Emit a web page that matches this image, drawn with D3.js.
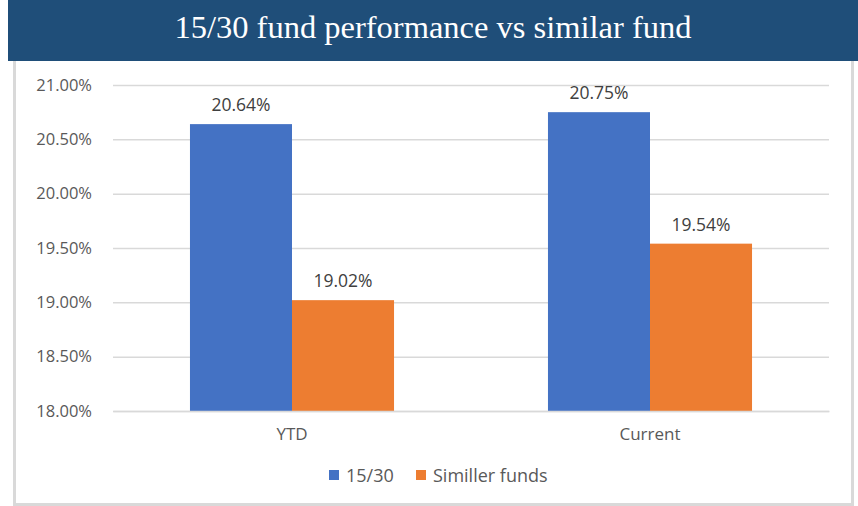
<!DOCTYPE html>
<html>
<head>
<meta charset="utf-8"/>
<script src="https://d3js.org/d3.v7.min.js"></script>
<style>
    body { margin: 0; background: #fff; }
    text { font-family: "Open Sans", "Liberation Sans", sans-serif; }
</style>
</head>
<body>
<svg width="858" height="506"></svg>
<script>
    // datos
    const categorias = ["YTD", "Current"];
    const series = ["15/30", "Similler funds"];
    const valores1530 = [20.64, 20.75];
    const valoresSimilares = [19.02, 19.54];
    const ticks = [18.0, 18.5, 19.0, 19.5, 20.0, 20.5, 21.0];
    const colores = ["#4472c4", "#ed7d31"];

    const svg = d3.select("svg");

    // caja del grafico
    svg.append("rect")
        .attr("x", 14.5).attr("y", 55).attr("width", 838).attr("height", 449.5)
        .attr("fill", "#fff").attr("stroke", "#d9d9d9").attr("stroke-width", 3);

    // banda del titulo
    svg.append("rect")
        .attr("x", 8).attr("y", 0).attr("width", 850).attr("height", 61)
        .attr("fill", "#1f4e79");
    svg.append("text")
        .attr("x", 433).attr("y", 38)
        .attr("text-anchor", "middle")
        .style("font-family", "'Liberation Serif', serif")
        .style("font-size", "32.5px")
        .attr("fill", "#fff")
        .text("15/30 fund performance vs similar fund");

    const mIzq = 113, mDer = 829, mSup = 85, mInf = 411;

    const y = d3.scaleLinear().domain([18, 21]).range([mInf, mSup]);
    const x0 = d3.scaleBand().domain(categorias).range([mIzq, mDer])
        .paddingInner(0.43).paddingOuter(0.215);
    const x1 = d3.scaleBand().domain(series).range([0, x0.bandwidth()]);

    // lineas de grilla
    const yAxis = d3.axisLeft(y).tickValues(ticks)
        .tickSize(-(mDer - mIzq))
        .tickPadding(21)
        .tickFormat(d => d.toFixed(2) + "%");
    const gy = svg.append("g")
        .attr("transform", "translate(" + mIzq + ",0)")
        .call(yAxis);
    gy.select(".domain").remove();
    gy.selectAll("line").attr("stroke", "#d9d9d9").attr("stroke-width", 1.5);
    gy.selectAll("text").attr("fill", "#595959").style("font-size", "16.5px");

    const datos = categorias.map((c, i) => ({
        cat: c,
        vals: [{s: series[0], v: valores1530[i]}, {s: series[1], v: valoresSimilares[i]}]
    }));

    const grupos = svg.selectAll("g.grupo").data(datos).enter()
        .append("g").attr("class", "grupo")
        .attr("transform", d => "translate(" + x0(d.cat) + ",0)");

    grupos.selectAll("rect").data(d => d.vals).enter()
        .append("rect")
        .attr("x", d => x1(d.s))
        .attr("width", x1.bandwidth())
        .attr("y", d => y(d.v))
        .attr("height", d => y(18) - y(d.v))
        .attr("fill", (d, i) => colores[i]);

    grupos.selectAll("text.val").data(d => d.vals).enter()
        .append("text").attr("class", "val")
        .attr("x", d => x1(d.s) + x1.bandwidth() / 2)
        .attr("y", d => y(d.v) - 13)
        .attr("text-anchor", "middle")
        .attr("fill", "#404040")
        .style("font-size", "17.5px")
        .text(d => d.v.toFixed(2) + "%");

    // eje x
    const xAxis = d3.axisBottom(x0).tickSize(0).tickPadding(17);
    const gx = svg.append("g")
        .attr("transform", "translate(0," + mInf + ")")
        .call(xAxis);
    gx.select(".domain").attr("stroke", "#d9d9d9").attr("stroke-width", 1.5);
    gx.selectAll("text").attr("fill", "#595959").style("font-size", "17px");

    // leyenda
    const leyenda = svg.append("g").attr("transform", "translate(329,482)");
    const offsets = [0, 87];
    series.forEach((s, i) => {
        leyenda.append("rect")
            .attr("x", offsets[i]).attr("y", -12).attr("width", 10).attr("height", 10)
            .attr("fill", colores[i]);
        leyenda.append("text")
            .attr("x", offsets[i] + 17).attr("y", 0)
            .attr("fill", "#595959")
            .style("font-size", "18px")
            .text(s);
    });
</script>
</body>
</html>
